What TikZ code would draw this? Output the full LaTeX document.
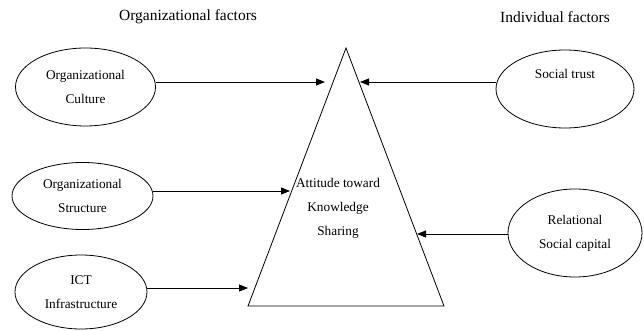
\documentclass[tikz,border=0pt]{standalone}
\usepackage{fontspec}
\setmainfont{Liberation Serif}
\usetikzlibrary{arrows.meta,shapes.geometric}

\begin{document}
\begin{tikzpicture}[x=1pt,y=-1pt,
    factor/.style={ellipse,draw,line width=0.8pt,align=center,inner sep=0pt,
      font=\fontsize{13.3}{24}\selectfont},
    heading/.style={font=\fontsize{15.5}{18}\selectfont},
    arr/.style={-{Triangle[length=9pt,width=7pt]},line width=0.8pt}]
    \useasboundingbox (0,0) rectangle (644,331);
    % headings
    \node[heading] (orgtitle) at (188,17) {Organizational factors};
    \node[heading] (indtitle) at (555,17) {Individual factors};
    % central triangle
    \coordinate (apex) at (346,48);
    \coordinate (baseL) at (248,306);
    \coordinate (baseR) at (444,306);
    \draw[line width=0.8pt] (apex) -- (baseL) -- (baseR) -- cycle;
    \node[align=center,font=\fontsize{13.3}{24}\selectfont] (attitude) at (338,208)
      {Attitude toward\\Knowledge\\Sharing};
    % organizational factors
    \node[factor,minimum width=140pt,minimum height=78pt] (culture) at (85.5,87) {Organizational\\Culture};
    \node[factor,minimum width=141pt,minimum height=67pt] (structure) at (82.5,196) {Organizational\\Structure};
    \node[factor,minimum width=132pt,minimum height=74pt] (ict) at (81,292) {ICT\\Infrastructure};
    % individual factors
    \node[factor,minimum width=138pt,minimum height=78pt] (trust) at (565,89) {Social trust\\\strut};
    \node[factor,minimum width=134pt,minimum height=88pt] (relational) at (575,233) {Relational\\Social capital};
    % connectors
    \coordinate (cultEnd) at (325,82);
    \coordinate (strucEnd) at (290,191);
    \coordinate (ictEnd) at (248,288);
    \coordinate (trustEnd) at (360,82);
    \coordinate (relEnd) at (417,234);
    \draw[arr] (culture.east |- cultEnd) -- (cultEnd);
    \draw[arr] (structure.east |- strucEnd) -- (strucEnd);
    \draw[arr] (ict.east |- ictEnd) -- (ictEnd);
    \draw[arr] (trust.west |- trustEnd) -- (trustEnd);
    \draw[arr] (relational.west |- relEnd) -- (relEnd);
\end{tikzpicture}
\end{document}
